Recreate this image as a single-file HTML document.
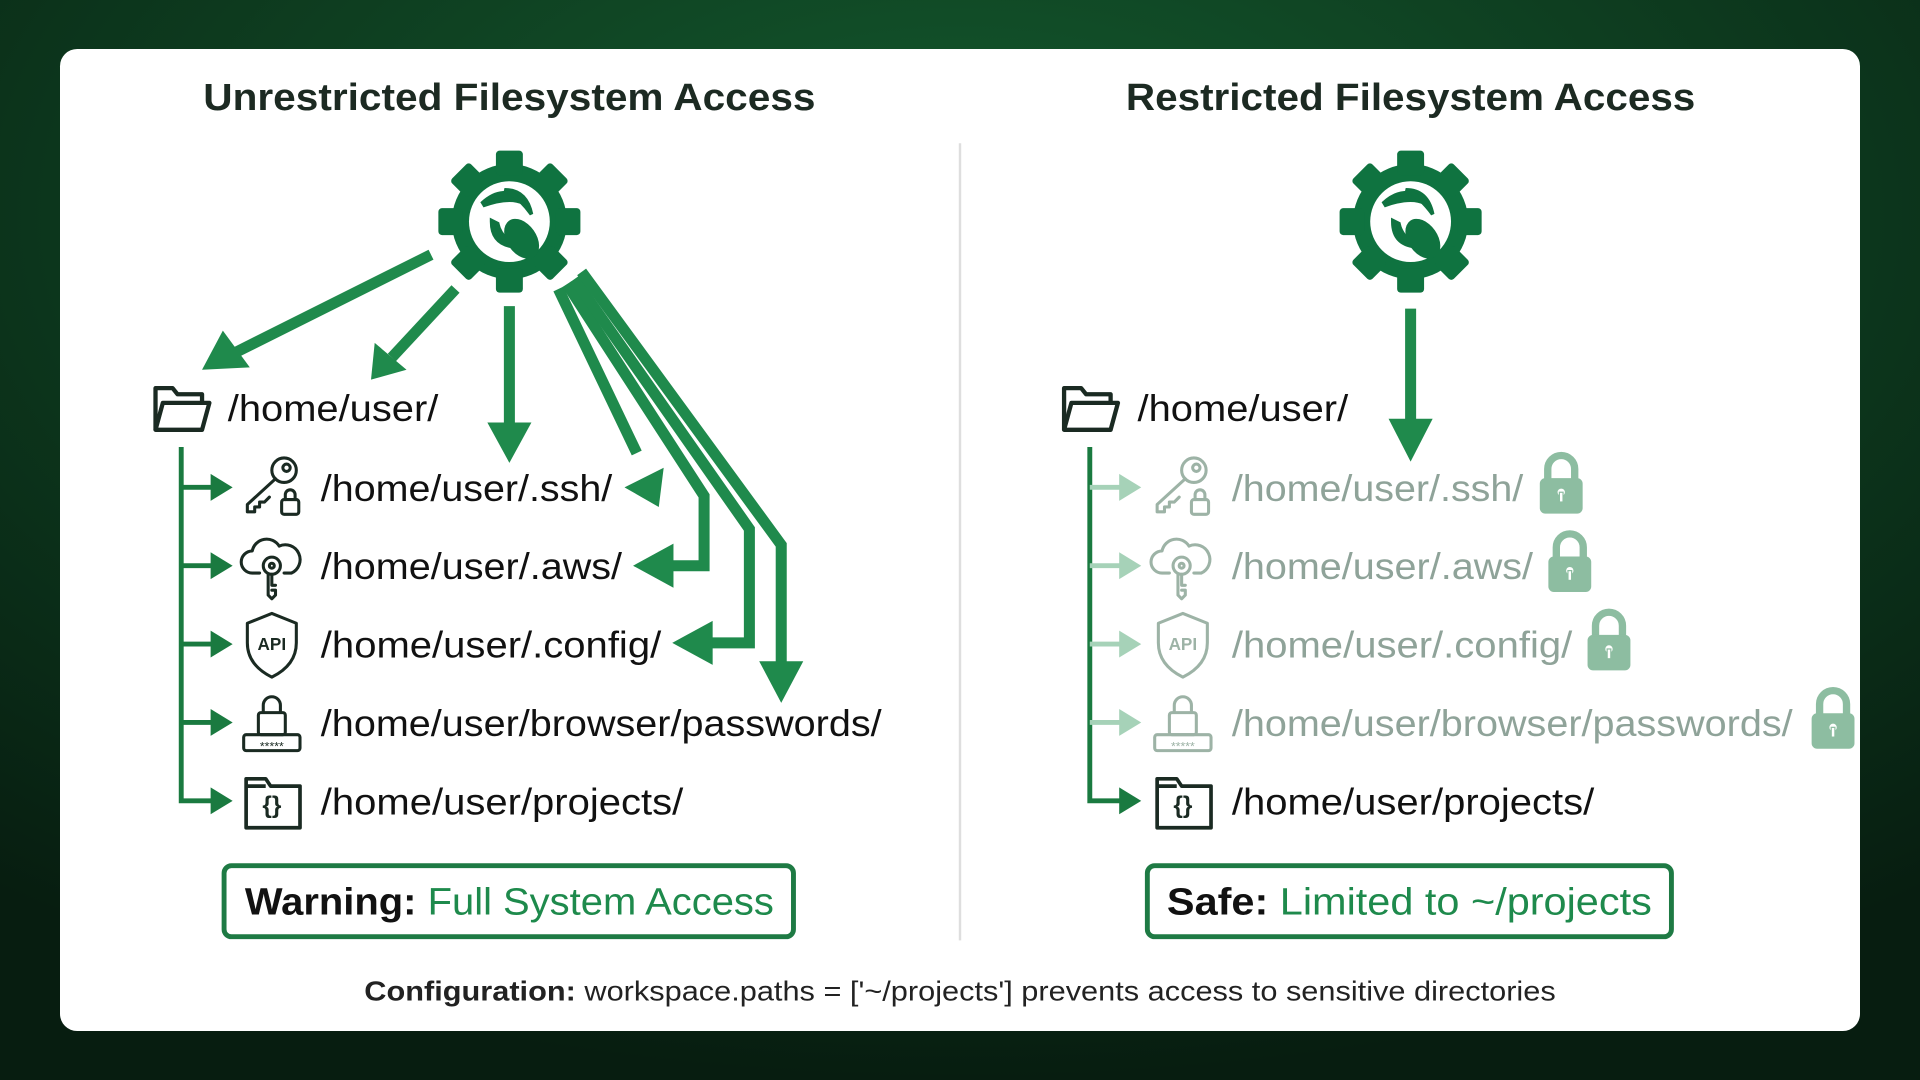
<!DOCTYPE html>
<html><head><meta charset="utf-8"><style>
html,body{margin:0;padding:0;width:1920px;height:1080px;overflow:hidden;background:#0b2a17}
svg{display:block}
text{font-family:"Liberation Sans",sans-serif}
</style></head><body>
<svg width="1920" height="1080" viewBox="0 0 1568 882" xmlns="http://www.w3.org/2000/svg">
<defs>
<radialGradient id="bg" cx="50%" cy="20%" r="80%">
<stop offset="0" stop-color="#145a2e"/><stop offset="1" stop-color="#071d10"/>
</radialGradient>
<g id="gear">
<circle r="47" fill="#0f7340"/>
<g fill="#0f7340">
<rect x="-11" y="-58" width="22" height="20" rx="3"/>
<rect x="-11" y="-58" width="22" height="20" rx="3" transform="rotate(45)"/>
<rect x="-11" y="-58" width="22" height="20" rx="3" transform="rotate(90)"/>
<rect x="-11" y="-58" width="22" height="20" rx="3" transform="rotate(135)"/>
<rect x="-11" y="-58" width="22" height="20" rx="3" transform="rotate(180)"/>
<rect x="-11" y="-58" width="22" height="20" rx="3" transform="rotate(225)"/>
<rect x="-11" y="-58" width="22" height="20" rx="3" transform="rotate(270)"/>
<rect x="-11" y="-58" width="22" height="20" rx="3" transform="rotate(315)"/>
</g>
<circle r="33" fill="#fff"/>
<path d="M-22,-14 Q-5,-30 12,-16 Q0,-22 -22,-14Z" fill="#0f7340" stroke="#0f7340" stroke-width="5"/>
<path d="M-4,-26 Q14,-26 18,-6 Q8,-20 -4,-26Z" fill="#0f7340" stroke="#0f7340" stroke-width="3"/>
<path d="M-14,0 Q-14,18 4,20 Q-8,12 -10,2Z" fill="#0f7340" stroke="#0f7340" stroke-width="4"/>
<ellipse cx="10" cy="14" rx="12" ry="18" transform="rotate(-35 10 14)" fill="#0f7340"/>
</g>
<g id="folder" fill="none" stroke-width="3.5" stroke-linejoin="round">
<path d="M2,36 L2,2 L16,2 L20,7 L40,7 L40,14"/>
<path d="M2,36 L8,14 L46,14 L40,36 Z"/>
</g>
<g id="key" fill="none" stroke-width="2.5" stroke-linejoin="round" stroke-linecap="round">
<circle cx="34" cy="12" r="10"/><circle cx="36" cy="10" r="3"/>
<path d="M27,19 L4,40 L4,46 L10,46 L10,42 L14,42 L14,38 L18,38 L22,34"/>
<rect x="32" y="36" width="14" height="12" rx="2"/><path d="M35,36 v-4 a4,4 0 0 1 8,0 v4"/>
</g>
<g id="cloud" fill="none" stroke-width="2.5" stroke-linejoin="round" stroke-linecap="round">
<path d="M16,34 H10 A9,9 0 0 1 10,16 A12,12 0 0 1 32,12 A10,10 0 0 1 42,34 H36"/>
<circle cx="26" cy="28" r="7"/><circle cx="26" cy="28" r="2"/>
<path d="M23,35 V52 L26,55 L29,52 V48 H26 M29,44 H26 V35"/>
</g>
<g id="shield" fill="none" stroke-width="2.5" stroke-linejoin="round">
<path d="M24,2 L44,10 V26 Q44,44 24,54 Q4,44 4,26 V10 Z"/>
</g>
<g id="pw" fill="none" stroke-width="2.5" stroke-linejoin="round">
<rect x="14" y="18" width="22" height="18" rx="2"/><path d="M18,18 v-6 a7,7 0 0 1 14,0 v6"/>
<rect x="2" y="36" width="46" height="13" rx="2"/>
</g>
<g id="proj" fill="none" stroke-width="3" stroke-linejoin="round">
<path d="M4,6 L4,46 L48,46 L48,12 L24,12 L20,6 Z M4,12 H20"/>
</g>
<g id="lock">
<path d="M-11,-4 v-9 a11,11 0 0 1 22,0 v9" fill="none" stroke-width="6"/>
<rect x="-17" y="-5" width="34" height="28" rx="4"/>
<circle cx="0" cy="6" r="3.5" fill="#fff"/><rect x="-1.5" y="6" width="3" height="8" fill="#fff"/>
</g>
</defs>
<rect width="1568" height="882" fill="url(#bg)"/>
<rect x="49" y="40" width="1470" height="802" rx="14" fill="#fff"/>
<line x1="784" y1="117" x2="784" y2="768" stroke="#dedede" stroke-width="2"/>

<text x="416" y="90" text-anchor="middle" font-size="31" font-weight="bold" fill="#1c2a22" textLength="500" lengthAdjust="spacingAndGlyphs">Unrestricted Filesystem Access</text>
<text x="1152" y="90" text-anchor="middle" font-size="31" font-weight="bold" fill="#1c2a22" textLength="465" lengthAdjust="spacingAndGlyphs">Restricted Filesystem Access</text>

<use href="#gear" x="416" y="181"/>
<use href="#gear" x="1152" y="181"/>

<!-- left arrows -->
<g stroke="#1f8a4c" stroke-width="9" fill="none" stroke-linejoin="miter">
<line x1="352" y1="208" x2="190" y2="289"/>
<line x1="372" y1="236" x2="320" y2="292"/>
<line x1="416" y1="250" x2="416" y2="350"/>
<line x1="456" y1="236" x2="520" y2="370"/>
<polyline points="463,232 575,405 575,462 545,462"/>
<polyline points="469,228 612,432 612,525 575,525"/>
<polyline points="475,222 638,445 638,545"/>
</g>
<g fill="#1f8a4c">
<polygon points="165,302 182,270 204,300"/>
<polygon points="303,310 306,280 332,302"/>
<polygon points="398,345 434,345 416,378"/>
<polygon points="510,398 542,382 538,414"/>
<polygon points="517,462 550,444 550,480"/>
<polygon points="549,525 582,507 582,543"/>
<polygon points="620,540 656,540 638,574"/>
</g>

<!-- left tree -->
<use href="#folder" x="125" y="315" stroke="#1a2a22"/>
<text x="186" y="344" font-size="30" fill="#111" textLength="172" lengthAdjust="spacingAndGlyphs">/home/user/</text>
<g stroke="#1a7a40" stroke-width="4" fill="none">
<polyline points="148,365 148,654 175,654"/>
<line x1="148" y1="398" x2="175" y2="398"/><line x1="148" y1="462" x2="175" y2="462"/>
<line x1="148" y1="526" x2="175" y2="526"/><line x1="148" y1="590" x2="175" y2="590"/>
</g>
<g fill="#1a7a40">
<polygon points="172,387 190,398 172,409"/><polygon points="172,451 190,462 172,473"/>
<polygon points="172,515 190,526 172,537"/><polygon points="172,579 190,590 172,601"/>
<polygon points="172,643 190,654 172,665"/>
</g>
<g stroke="#1a2a22">
<use href="#key" x="198" y="372"/>
<use href="#cloud" x="196" y="434"/>
<use href="#shield" x="198" y="499"/>
<use href="#pw" x="197" y="564"/>
<use href="#proj" x="197" y="630"/>
</g>
<text x="222" y="531" text-anchor="middle" font-size="14" font-weight="bold" fill="#1a2a22">API</text>
<text x="222" y="613" text-anchor="middle" font-size="10" fill="#1a2a22">*****</text>
<text x="222" y="664" text-anchor="middle" font-size="20" font-weight="bold" fill="#1a2a22">{}</text>
<g font-size="30" fill="#111">
<text x="262" y="409" textLength="238" lengthAdjust="spacingAndGlyphs">/home/user/.ssh/</text>
<text x="262" y="473" textLength="246" lengthAdjust="spacingAndGlyphs">/home/user/.aws/</text>
<text x="262" y="537" textLength="278" lengthAdjust="spacingAndGlyphs">/home/user/.config/</text>
<text x="262" y="601" textLength="458" lengthAdjust="spacingAndGlyphs">/home/user/browser/passwords/</text>
<text x="262" y="665" textLength="296" lengthAdjust="spacingAndGlyphs">/home/user/projects/</text>
</g>

<rect x="183" y="707" width="465" height="58" rx="6" fill="none" stroke="#1e7a44" stroke-width="4"/>
<text x="416" y="747" text-anchor="middle" font-size="31" textLength="432" lengthAdjust="spacingAndGlyphs"><tspan font-weight="bold" fill="#111">Warning: </tspan><tspan fill="#1e8a4c">Full System Access</tspan></text>

<!-- right -->
<line x1="1152" y1="252" x2="1152" y2="345" stroke="#1f8a4c" stroke-width="9"/>
<polygon points="1134,342 1170,342 1152,377" fill="#1f8a4c"/>
<use href="#folder" x="867" y="315" stroke="#1a2a22"/>
<text x="929" y="344" font-size="30" fill="#111" textLength="172" lengthAdjust="spacingAndGlyphs">/home/user/</text>
<g stroke-width="4" fill="none">
<polyline points="890,365 890,654 917,654" stroke="#1a7a40"/>
<g stroke="#a6d2b8"><line x1="890" y1="398" x2="917" y2="398"/><line x1="890" y1="462" x2="917" y2="462"/>
<line x1="890" y1="526" x2="917" y2="526"/><line x1="890" y1="590" x2="917" y2="590"/></g>
</g>
<g fill="#a6d2b8">
<polygon points="914,387 932,398 914,409"/><polygon points="914,451 932,462 914,473"/>
<polygon points="914,515 932,526 914,537"/><polygon points="914,579 932,590 914,601"/>
</g>
<polygon points="914,643 932,654 914,665" fill="#1a7a40"/>
<g stroke="#9db3a6">
<use href="#key" x="941" y="372"/>
<use href="#cloud" x="939" y="434"/>
<use href="#shield" x="942" y="499"/>
<use href="#pw" x="941" y="564"/>
</g>
<use href="#proj" x="941" y="630" stroke="#1a2a22"/>
<text x="966" y="531" text-anchor="middle" font-size="14" font-weight="bold" fill="#9db3a6">API</text>
<text x="966" y="613" text-anchor="middle" font-size="10" fill="#9db3a6">*****</text>
<text x="966" y="664" text-anchor="middle" font-size="20" font-weight="bold" fill="#1a2a22">{}</text>
<g font-size="30" fill="#8fa399">
<text x="1006" y="409" textLength="238" lengthAdjust="spacingAndGlyphs">/home/user/.ssh/</text>
<text x="1006" y="473" textLength="246" lengthAdjust="spacingAndGlyphs">/home/user/.aws/</text>
<text x="1006" y="537" textLength="278" lengthAdjust="spacingAndGlyphs">/home/user/.config/</text>
<text x="1006" y="601" textLength="458" lengthAdjust="spacingAndGlyphs">/home/user/browser/passwords/</text>
</g>
<text x="1006" y="665" font-size="30" fill="#111" textLength="296" lengthAdjust="spacingAndGlyphs">/home/user/projects/</text>
<g fill="#8dbda1" stroke="#8dbda1">
<use href="#lock" x="1275" y="396"/>
<use href="#lock" x="1282" y="460"/>
<use href="#lock" x="1314" y="524"/>
<use href="#lock" x="1497" y="588"/>
</g>

<rect x="937" y="707" width="428" height="58" rx="6" fill="none" stroke="#1e7a44" stroke-width="4"/>
<text x="1151" y="747" text-anchor="middle" font-size="31" textLength="396" lengthAdjust="spacingAndGlyphs"><tspan font-weight="bold" fill="#111">Safe: </tspan><tspan fill="#1e8a4c">Limited to ~/projects</tspan></text>

<text x="784" y="817" text-anchor="middle" font-size="23" fill="#222" textLength="973" lengthAdjust="spacingAndGlyphs"><tspan font-weight="bold">Configuration:</tspan> workspace.paths = ['~/projects'] prevents access to sensitive directories</text>
</svg>
</body></html>
